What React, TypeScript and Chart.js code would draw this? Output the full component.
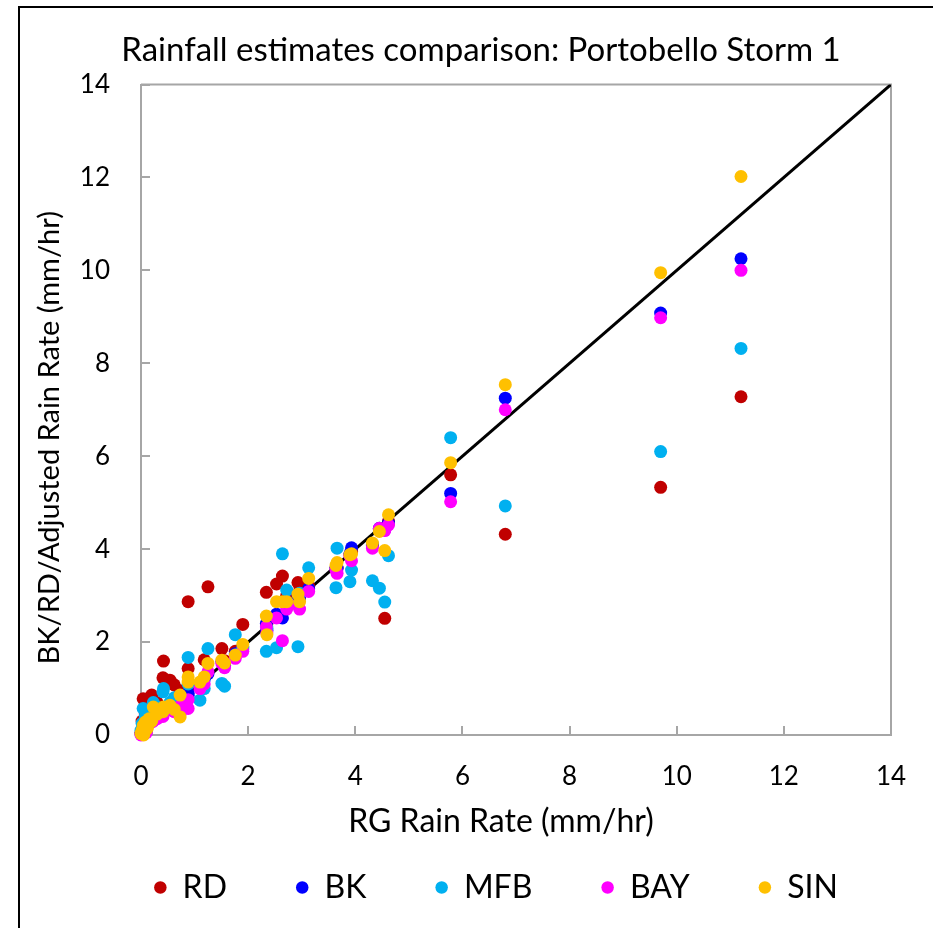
import React, { useEffect, useRef } from 'react';
import { Chart, registerables } from 'chart.js';

Chart.register(...registerables);

// ---------- data ----------
const chartTitle = 'Rainfall estimates comparison: Portobello Storm 1';
const xAxisTitle = 'RG Rain Rate (mm/hr)';
const yAxisTitle = 'BK/RD/Adjusted Rain Rate (mm/hr)';

const seriesNames = ['RD', 'BK', 'MFB', 'BAY', 'SIN'];
const seriesColors = ['#c00000', '#0000ff', '#00b0f0', '#ff00ff', '#ffc000'];

const axisMin = 0;
const axisMax = 14;
const axisStep = 2;

// RG (gauge) rain rate, shared by all series
const rgRate = [
  0.0, 0.02, 0.04, 0.05, 0.08, 0.1, 0.12, 0.15, 0.2, 0.23,
  0.3, 0.41, 0.42, 0.54, 0.62, 0.73, 0.73, 0.88, 0.88, 1.1,
  1.18, 1.25, 1.51, 1.56, 1.76, 1.9, 2.34, 2.35, 2.53, 2.64,
  2.72, 2.93, 2.96, 3.13, 3.64, 3.66, 3.9, 3.93, 4.32, 4.45,
  4.55, 4.62, 5.78, 6.8, 9.7, 11.2,
];
const rdRate = [
  0.05, 0.3, 0.78, 0.2, 0.45, 0.1, 0.35, 0.6, 0.86, 0.5,
  0.7, 1.23, 1.59, 1.18, 1.08, 0.95, 0.65, 2.87, 1.43, 1.1,
  1.62, 3.19, 1.86, 1.6, 1.8, 2.38, 3.07, 2.4, 3.25, 3.42,
  3.0, 3.28, 3.1, 3.2, 3.6, 3.6, 3.88, 3.95, 4.08, 4.42,
  2.51, 4.6, 5.6, 4.32, 5.33, 7.28,
];
const bkRate = [
  0.02, 0.1, 0.15, 0.05, 0.2, 0.08, 0.25, 0.3, 0.35, 0.4,
  0.4, 0.45, 0.55, 0.6, 0.62, 0.75, 0.5, 0.9, 0.85, 1.1,
  1.2, 1.32, 1.58, 1.5, 1.75, 1.9, 2.4, 2.25, 2.6, 2.52,
  2.85, 3.0, 2.95, 3.15, 3.6, 3.59, 3.9, 4.03, 4.1, 4.45,
  4.42, 4.56, 5.2, 7.25, 9.08, 10.25,
];
const mfbRate = [
  0.1, 0.25, 0.57, 0.05, 0.4, 0.15, 0.3, 0.45, 0.55, 0.7,
  0.6, 0.93, 1.0, 0.7, 0.8, 0.8, 0.6, 1.67, 1.1, 0.75,
  1.0, 1.86, 1.11, 1.05, 2.16, 1.85, 1.8, 2.3, 1.88, 3.9,
  3.12, 1.9, 3.05, 3.6, 3.17, 4.02, 3.3, 3.55, 3.32, 3.16,
  2.86, 3.86, 6.4, 4.93, 6.1, 8.32,
];
const bayRate = [
  0.0, 0.05, 0.08, 0.02, 0.12, 0.05, 0.2, 0.25, 0.28, 0.3,
  0.35, 0.4, 0.5, 0.55, 0.5, 0.62, 0.45, 0.76, 0.57, 1.0,
  1.1, 1.36, 1.54, 1.45, 1.65, 1.8, 2.33, 2.2, 2.52, 2.03,
  2.71, 2.8, 2.71, 3.09, 3.55, 3.48, 3.85, 3.75, 4.02, 4.45,
  4.4, 4.52, 5.02, 7.0, 8.98, 10.0,
];
const sinRate = [
  0.03, 0.1, 0.2, 0.0, 0.28, 0.12, 0.15, 0.35, 0.3, 0.6,
  0.45, 0.5, 0.6, 0.64, 0.55, 0.86, 0.39, 1.25, 1.14, 1.14,
  1.25, 1.54, 1.61, 1.55, 1.72, 1.95, 2.56, 2.16, 2.87, 2.87,
  2.87, 3.03, 2.87, 3.37, 3.65, 3.71, 3.88, 3.9, 4.13, 4.38,
  3.97, 4.74, 5.86, 7.54, 9.95, 12.02,
];
const seriesValues = [rdRate, bkRate, mfbRate, bayRate, sinRate];

// 1:1 reference line end points
const oneToOneLine = [0, 14];

// ---------- styling ----------
const FONT = 'Lato, "Open Sans", "DejaVu Sans", sans-serif';
const AXIS_GRAY = '#a6a6a6';
const LEGEND_SHIFT = 15;

const framePlugin = {
  id: 'excelFrame',
  afterLayout(chart: any) {
    const lg = chart.legend;
    if (lg) {
      lg.left += LEGEND_SHIFT;
      lg.right += LEGEND_SHIFT;
    }
  },
  beforeDatasetsDraw(chart: any) {
    const { ctx, chartArea: a } = chart;
    ctx.save();
    ctx.strokeStyle = AXIS_GRAY;
    ctx.lineWidth = 2;
    ctx.beginPath();
    ctx.moveTo(a.left, a.top);
    ctx.lineTo(a.right, a.top);
    ctx.lineTo(a.right, a.bottom);
    ctx.stroke();
    ctx.restore();
  },
  afterDraw(chart: any) {
    const { ctx, chartArea: a } = chart;
    ctx.save();
    ctx.fillStyle = '#000';
    ctx.textAlign = 'center';
    ctx.textBaseline = 'alphabetic';
    ctx.font = `32px ${FONT}`;
    ctx.fillText(xAxisTitle, (a.left + a.right) / 2 - 15, 832);
    ctx.font = `29px ${FONT}`;
    ctx.translate(59, (a.top + a.bottom) / 2 + 28);
    ctx.rotate(-Math.PI / 2);
    ctx.fillText(yAxisTitle, 0, 0);
    ctx.restore();
  },
};

export default function App() {
  const canvasRef = useRef<HTMLCanvasElement | null>(null);

  useEffect(() => {
    const canvas = canvasRef.current;
    if (!canvas) return;
    Chart.defaults.font.family = FONT;

    const scatterSets = seriesNames.map((name, i) => ({
      label: name,
      data: rgRate.map((x, j) => ({ x, y: seriesValues[i][j] })),
      backgroundColor: seriesColors[i],
      borderColor: seriesColors[i],
      pointBackgroundColor: seriesColors[i],
      pointBorderColor: seriesColors[i],
      borderWidth: 0,
      pointBorderWidth: 0,
      pointRadius: 6.5,
      pointHoverRadius: 6.5,
      pointStyle: 'circle',
      order: seriesNames.length - i,
      clip: false,
    }));

    const lineSet = {
      label: '1:1',
      data: oneToOneLine.map((v) => ({ x: v, y: v })),
      showLine: true,
      borderColor: '#000',
      backgroundColor: '#000',
      borderWidth: 3,
      pointRadius: 0,
      pointHoverRadius: 0,
      fill: false,
      order: 10,
    };

    const axisCommon = {
      type: 'linear' as const,
      min: axisMin,
      max: axisMax,
      grid: {
        display: true,
        drawOnChartArea: false,
        drawTicks: true,
        tickLength: -9,
        color: AXIS_GRAY,
        lineWidth: 2,
      },
      border: { display: true, color: AXIS_GRAY, width: 2 },
      title: { display: false },
    };

    const chart = new Chart(canvas, {
      type: 'scatter',
      data: { datasets: [...scatterSets, lineSet] as any },
      options: {
        animation: false,
        responsive: false,
        maintainAspectRatio: false,
        events: [],
        layout: { padding: { left: 29, right: 0, top: 0, bottom: 14.5 } },
        scales: {
          x: {
            ...axisCommon,
            position: 'bottom',
            afterFit: (s: any) => {
              s.height = 67.5;
            },
            ticks: {
              stepSize: axisStep,
              padding: 25,
              color: '#000',
              font: { size: 26, lineHeight: 2 },
            },
          },
          y: {
            ...axisCommon,
            position: 'left',
            afterFit: (s: any) => {
              s.width = 112;
            },
            ticks: { stepSize: axisStep, padding: 40, color: '#000', font: { size: 26 } },
          },
          yRight: {
            type: 'linear',
            axis: 'y',
            position: 'right',
            display: true,
            min: axisMin,
            max: axisMax,
            afterFit: (s: any) => {
              s.width = 42;
            },
            ticks: { display: false },
            grid: { display: false, drawTicks: false },
            border: { display: false },
            title: { display: false },
          },
        },
        plugins: {
          title: {
            display: true,
            text: chartTitle,
            color: '#000',
            font: { size: 33, weight: 'normal' },
            padding: { top: 30.7, bottom: 14.2 },
          },
          legend: {
            display: true,
            position: 'bottom',
            align: 'center',
            labels: {
              usePointStyle: true,
              pointStyle: 'circle',
              boxWidth: 12.5,
              boxHeight: 8.84,
              padding: 69,
              color: '#000',
              font: { size: 32 },
              filter: (item: any) => item.datasetIndex < seriesNames.length,
              sort: (a: any, b: any) => a.datasetIndex - b.datasetIndex,
            },
          },
          tooltip: { enabled: false },
        },
      } as any,
      plugins: [framePlugin],
    });

    return () => chart.destroy();
  }, []);

  return (
    <div
      style={{
        position: 'absolute',
        left: 0,
        top: 0,
        width: 933,
        height: 928,
        overflow: 'hidden',
        background: '#fff',
      }}
    >
      <canvas ref={canvasRef} width={933} height={928} style={{ display: 'block', width: 933, height: 928 }} />
      <div
        style={{
          position: 'absolute',
          left: 18,
          top: 6,
          width: 940,
          height: 940,
          borderLeft: '2px solid #000',
          borderTop: '2px solid #000',
          pointerEvents: 'none',
        }}
      />
    </div>
  );
}
